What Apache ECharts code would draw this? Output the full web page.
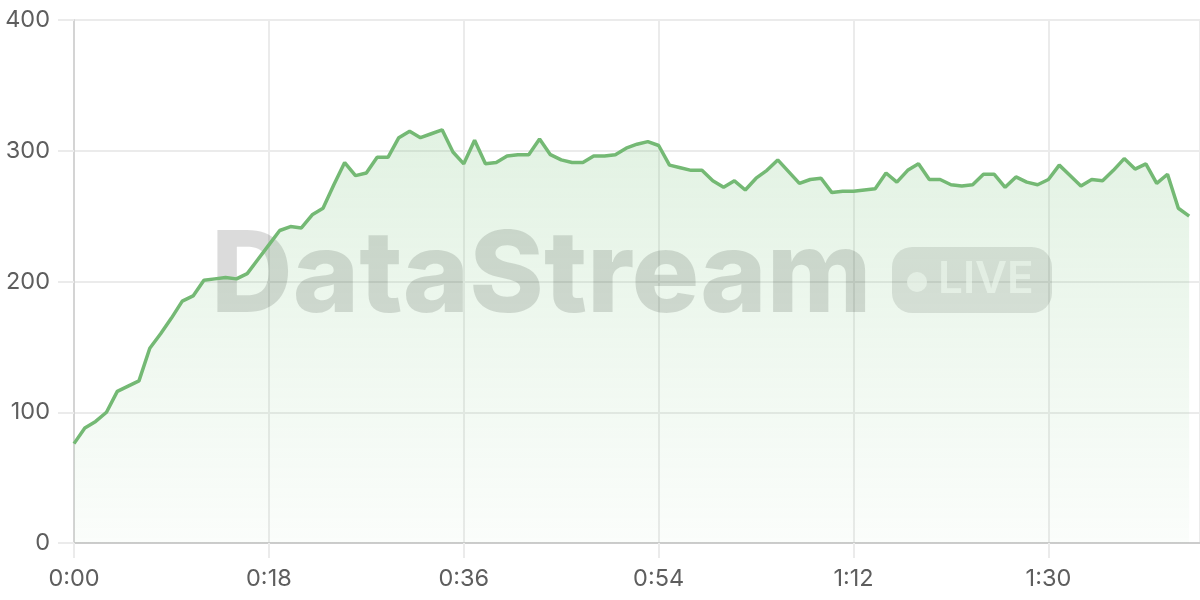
<!DOCTYPE html>
<html>
<head>
<meta charset="utf-8">
<script src="https://cdn.jsdelivr.net/npm/echarts@6/dist/echarts.min.js"></script>
<style>
html,body{margin:0;padding:0;background:#fff;}
#c{width:1200px;height:600px;}
</style>
</head>
<body>
<div id="c"></div>
<script>
// seconds since start (one sample per second)
const values = [76,88,93,100,116,120,124,149,160,172,185,189,201,202,203,202,206,217,228,239,
  242,241,251,256,274,291,281,283,295,295,310,315,310,313,316,299,290,308,290,291,
  296,297,297,309,297,293,291,291,296,296,297,302,305,307,304,289,287,285,285,277,
  272,277,270,279,285,293,284,275,278,279,268,269,269,270,271,283,276,285,290,278,
  278,274,273,274,282,282,272,280,276,274,278,289,281,273,278,277,285,294,286,290,
  275,282,256,250];
const xTicks = [0, 18, 36, 54, 72, 90];
const yTicks = [0, 100, 200, 300, 400];

const seriesData = values.map((v, i) => [i, v]);
function fmtTime(s) {
  const m = Math.floor(s / 60), sec = s % 60;
  return m + ':' + (sec < 10 ? '0' : '') + sec;
}

const chart = echarts.init(document.getElementById('c'));
const FONT = 'Inter, "Noto Sans", sans-serif';
chart.setOption({
  animation: false,
  grid: { left: 74, right: 0, top: 20, bottom: 57, containLabel: false },
  xAxis: {
    type: 'value', min: 0, max: 104, interval: 18,
    axisLine: { show: true, lineStyle: { color: '#cccccc', width: 2 } },
    axisTick: { show: true, length: 15, lineStyle: { color: '#ebebeb', width: 2 } },
    splitLine: { show: true, lineStyle: { color: '#ebebeb', width: 2 } },
    axisLabel: {
      margin: 24, color: '#5e5e5e', fontSize: 23.5, fontFamily: FONT,
      showMaxLabel: false,
      formatter: v => xTicks.indexOf(v) >= 0 ? fmtTime(v) : ''
    }
  },
  yAxis: {
    type: 'value', min: yTicks[0], max: yTicks[yTicks.length - 1], interval: 100,
    axisLine: { show: true, lineStyle: { color: '#d4d4d4', width: 2 } },
    axisTick: { show: true, length: 16, lineStyle: { color: '#ebebeb', width: 2 } },
    splitLine: { show: true, lineStyle: { color: '#ebebeb', width: 2 } },
    axisLabel: { margin: 24, color: '#5e5e5e', fontSize: 23.5, fontFamily: FONT }
  },
  graphic: [
    { type: 'text', z: 1, left: 211, top: 222,
      style: { text: 'DataStream', font: '800 113px Inter', fill: 'rgba(0,0,0,0.14)' } },
    { type: 'rect', z: 1, shape: { x: 892, y: 247, width: 160, height: 66, r: 20 },
      style: { fill: 'rgba(0,0,0,0.11)' } },
    { type: 'circle', z: 1, shape: { cx: 917, cy: 282, r: 10 },
      style: { fill: 'rgba(255,255,255,0.68)' } },
    { type: 'text', z: 1, left: 938, top: 258,
      style: { text: 'LIVE', font: '600 44px Inter', fill: 'rgba(255,255,255,0.68)' } }
  ],
  series: [{
    type: 'line', data: seriesData, showSymbol: false, symbol: 'none',
    lineStyle: { color: '#74b974', width: 3.5 },
    itemStyle: { color: '#74b974' },
    areaStyle: {
      color: new echarts.graphic.LinearGradient(0, 0, 0, 1, [
        { offset: 0, color: 'rgba(102,187,106,0.27)' },
        { offset: 1, color: 'rgba(102,187,106,0.04)' }
      ])
    },
    z: 2
  }]
});
</script>
</body>
</html>
